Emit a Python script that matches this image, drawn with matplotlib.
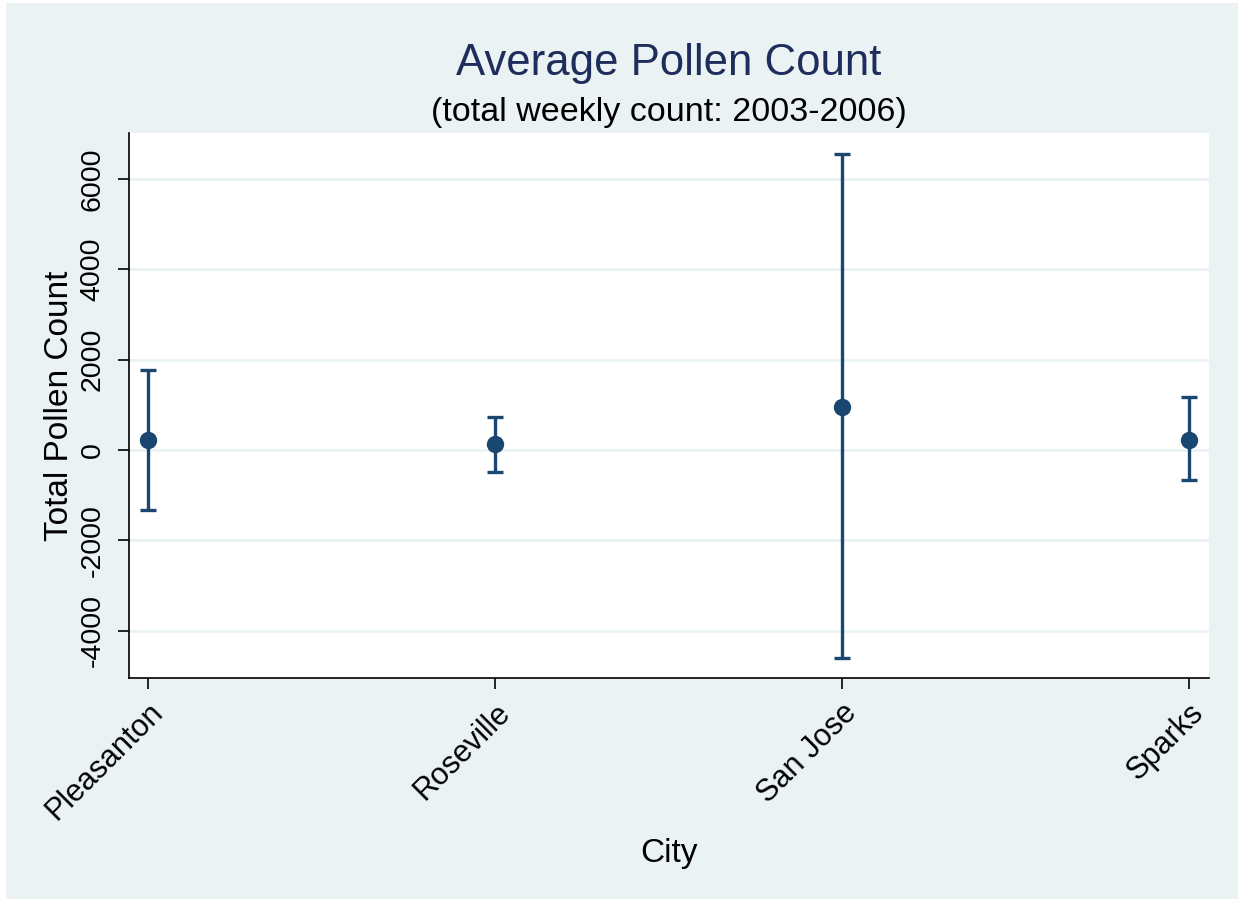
import matplotlib
matplotlib.use("Agg")
import matplotlib.pyplot as plt
import numpy as np

plt.rcParams['font.family'] = ['Liberation Sans', 'DejaVu Sans']
plt.rcParams['axes.unicode_minus'] = False

# data
cities = ["Pleasanton", "Roseville", "San Jose", "Sparks"]
mean_count = [220, 122, 957, 228]
upper = [1780, 734, 6548, 1162]
lower = [-1330, -490, -4617, -672]

navy = "#1a476f"
bg = "#eaf2f3"

fig = plt.figure(figsize=(12.41, 9.01), dpi=100, facecolor="white")
# light graph region, leaving a thin white margin like the original
fig.patches.append(plt.Rectangle((6 / 1241, 2 / 901), 1 - 9 / 1241, 1 - 5 / 901,
                                 transform=fig.transFigure, facecolor=bg,
                                 edgecolor="none", zorder=-10))

ax = fig.add_axes([0.104, 0.2475, 0.87, 0.605])
ax.set_facecolor("white")

x = np.arange(len(cities))
mean_arr = np.array(mean_count)
yerr = [mean_arr - np.array(lower), np.array(upper) - mean_arr]
ax.errorbar(x, mean_arr, yerr=yerr, fmt="o", color=navy, ms=11.5,
            elinewidth=2.4, capsize=5.8, capthick=2.4, zorder=3)

ax.set_xlim(-0.055, 3.058)
ax.set_ylim(-5050, 7020)
ax.set_yticks([-4000, -2000, 0, 2000, 4000, 6000])
ax.set_xticks(x)
ax.set_xticklabels(cities, rotation=45, ha="right", rotation_mode="anchor")
for lab in ax.get_yticklabels():
    lab.set_rotation(90)
    lab.set_va("center")

ax.grid(axis="y", color=bg, linewidth=2, zorder=1)
ax.set_axisbelow(True)
for s in ["top", "right"]:
    ax.spines[s].set_visible(False)
for s in ["left", "bottom"]:
    ax.spines[s].set_linewidth(1.2)
    ax.spines[s].set_color("black")

ax.tick_params(axis="both", length=8, width=1.2, colors="black")
ax.tick_params(axis="y", pad=9, labelsize=20.5)
ax.tick_params(axis="x", pad=6, labelsize=22)

ax.set_ylabel("Total Pollen Count", fontsize=24, labelpad=3)
ax.set_xlabel("City", fontsize=24, labelpad=8)

fig.text(0.539, 0.929, "Average Pollen Count", ha="center", va="center",
         fontsize=31.5, color="#1e2d5c")
fig.text(0.539, 0.875, "(total weekly count: 2003-2006)", ha="center",
         va="center", fontsize=24.5, color="black")

fig.savefig("out.png", dpi=100, facecolor="white")
